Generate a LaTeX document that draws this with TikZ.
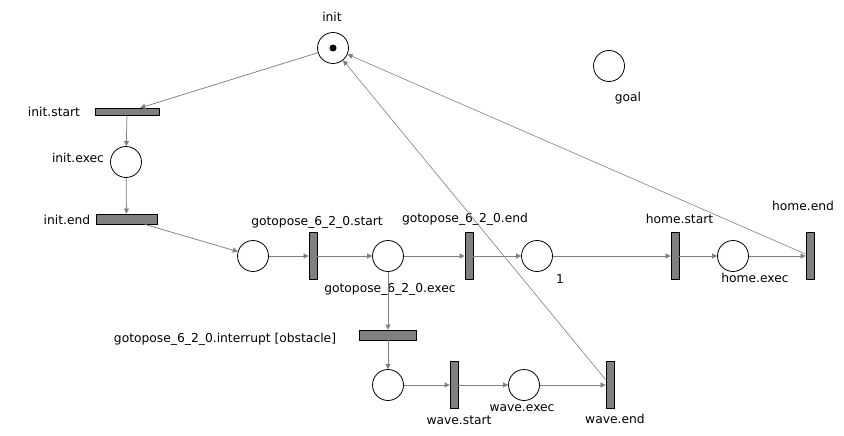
\documentclass[tikz,border=0pt]{standalone}
\usepackage{fontspec}
\setmainfont{DejaVu Sans}
\usetikzlibrary{arrows.meta}
\definecolor{arcgray}{HTML}{808080}
\definecolor{transgray}{HTML}{808080}
\tikzset{
  place/.style={circle, draw=black, line width=0.8pt, fill=white, minimum size=31pt, inner sep=0pt},
  trans/.style={rectangle, draw=black, line width=0.8pt, fill=transgray, inner sep=0pt},
  vtrans/.style={trans, minimum width=8pt, minimum height=47pt},
  arc/.style={draw=arcgray, line width=0.75pt, -{Triangle[length=5pt,width=5pt]}},
  lbl/.style={inner sep=0pt, font=\fontsize{12.3}{14}\selectfont},
  token/.style={circle, fill=black, minimum size=7pt, inner sep=0pt}
}
\begin{document}
\begin{tikzpicture}[x=1pt, y=-1pt]
\useasboundingbox[fill=white] (0,0) rectangle (844,436);

% places
\node[place] (init) at (333,48) {};
\node[token] (tok) at (333,48) {};
\node[place] (goal) at (609,66) {};
\node[place] (iexec) at (126,162) {};
\node[place] (p1) at (253,256) {};
\node[place] (gexec) at (388,256) {};
\node[place] (p2) at (537,256) {};
\node[place] (hexec) at (733,256) {};
\node[place] (pw) at (388,385) {};
\node[place] (wexec) at (524,385) {};

% transitions
\node[trans, minimum width=64pt, minimum height=7.5pt] (istart) at (127,112) {};
\node[trans, minimum width=61pt, minimum height=10pt] (iend) at (126.5,219) {};
\node[vtrans] (gstart) at (313,256) {};
\node[vtrans] (gend) at (469,256) {};
\node[vtrans] (hstart) at (675,256) {};
\node[vtrans] (hend) at (810,256) {};
\node[trans, minimum width=57pt, minimum height=10pt] (gint) at (388,335) {};
\node[vtrans] (wstart) at (454,385) {};
\node[vtrans] (wend) at (610,385) {};

% labels
\node[lbl] (linit) at (332,17) {init};
\node[lbl] (lgoal) at (628,98) {goal};
\node[lbl] (listart) at (54,112) {init.start};
\node[lbl] (liexec) at (78,158) {init.exec};
\node[lbl] (liend) at (67,220) {init.end};
\node[lbl] (lgstart) at (317,222) {gotopose\_6\_2\_0.start};
\node[lbl] (lgend) at (465,219) {gotopose\_6\_2\_0.end};
\node[lbl] (lgexec) at (390,289) {gotopose\_6\_2\_0.exec};
\node[lbl] (lp2) at (560,279) {1};
\node[lbl] (lhstart) at (679.5,219) {home.start};
\node[lbl] (lhexec) at (755,278) {home.exec};
\node[lbl] (lhend) at (803,206) {home.end};
\node[lbl] (lgint) at (225,339) {gotopose\_6\_2\_0.interrupt [obstacle]};
\node[lbl] (lwstart) at (459,420) {wave.start};
\node[lbl] (lwexec) at (522,408) {wave.exec};
\node[lbl] (lwend) at (615,419) {wave.end};

% arcs
\draw[arc] (init) -- (istart);
\draw[arc] (istart) -- (iexec);
\draw[arc] (iexec) -- (iend);
\draw[arc] (iend) -- (p1);
\draw[arc] (p1) -- (gstart);
\draw[arc] (gstart) -- (gexec);
\draw[arc] (gexec) -- (gend);
\draw[arc] (gend) -- (p2);
\draw[arc] (p2) -- (hstart);
\draw[arc] (hstart) -- (hexec);
\draw[arc] (hexec) -- (hend);
\draw[arc] (gexec) -- (gint);
\draw[arc] (gint) -- (pw);
\draw[arc] (pw) -- (wstart);
\draw[arc] (wstart) -- (wexec);
\draw[arc] (wexec) -- (wend);
\draw[arc, line width=0.6pt] (wend) -- (init);
\draw[arc, line width=0.6pt] (hend) -- (init);
\end{tikzpicture}
\end{document}
